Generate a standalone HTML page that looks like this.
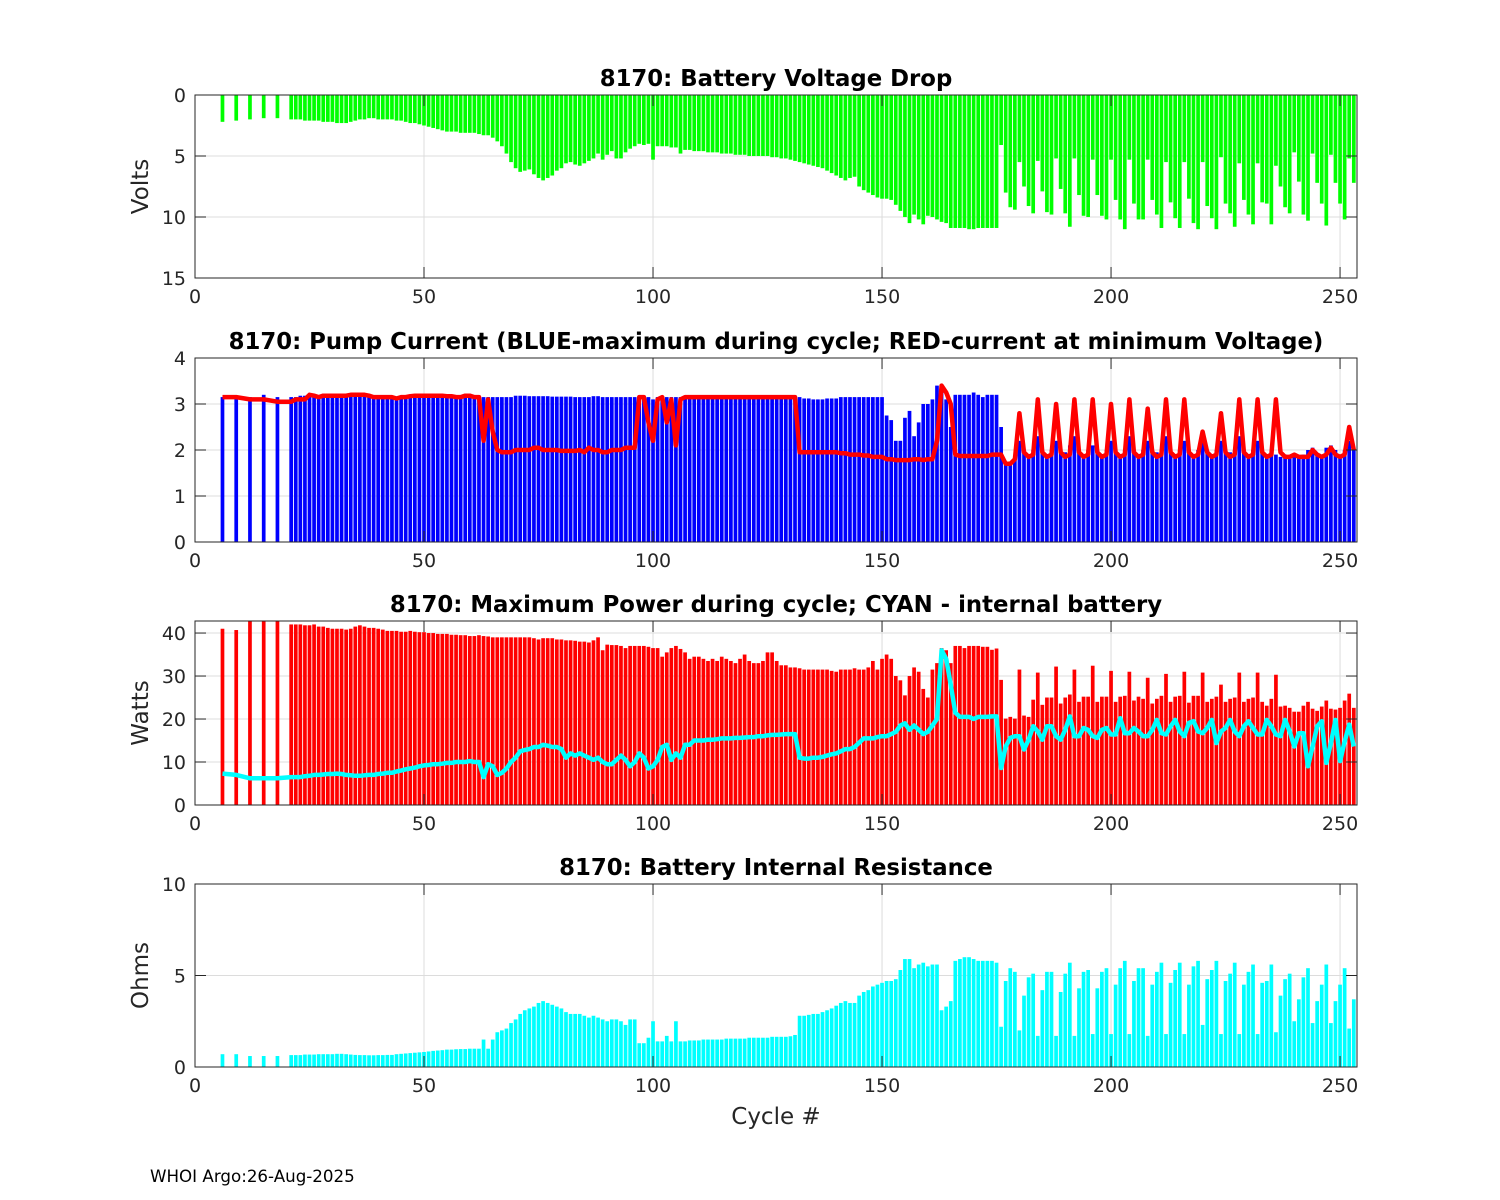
<!DOCTYPE html>
<html><head><meta charset="utf-8">
<style>
html,body{margin:0;padding:0;background:#fff;}
svg{display:block;font-family:"DejaVu Sans","Liberation Sans",sans-serif;}
</style></head>
<body>
<svg id="fig" width="1500" height="1200" viewBox="0 0 1500 1200" xmlns="http://www.w3.org/2000/svg">
<rect width="1500" height="1200" fill="#fff"/>
</svg>
<script>
// ---- data ----
const cycles = [6,9,12,15,18];
for (let c = 21; c <= 253; c++) cycles.push(c);

const voltDrop = [
2.2,2.1,2.0,1.9,1.9,
2.0,2.0,2.0,2.1,2.1,2.1,2.1,2.2,2.2,2.2,
2.3,2.3,2.3,2.2,2.1,2.0,2.0,1.9,1.9,2.0,
2.0,2.0,2.0,2.1,2.1,2.2,2.3,2.3,2.4,2.5,
2.6,2.7,2.8,2.9,3.0,3.0,3.0,3.1,3.1,3.1,
3.1,3.2,3.3,3.3,3.5,3.8,4.2,4.8,5.5,6.0,
6.3,6.2,6.1,6.5,6.8,7.0,6.8,6.6,6.2,6.0,
5.6,5.5,5.7,5.8,5.6,5.4,5.2,4.8,5.3,4.9,
4.6,5.2,5.2,4.7,4.4,4.2,4.0,4.1,4.0,5.3,
4.2,4.2,4.2,4.3,4.3,4.8,4.5,4.5,4.6,4.6,
4.6,4.7,4.7,4.7,4.8,4.8,4.8,4.9,4.9,4.9,
5.0,5.0,5.0,5.0,5.0,5.1,5.1,5.2,5.2,5.3,
5.4,5.5,5.6,5.7,5.8,5.9,6.0,6.2,6.4,6.6,
6.8,7.0,6.8,6.7,7.5,7.8,8.0,8.2,8.4,8.5,
8.5,8.6,9.0,9.5,10.0,10.5,9.8,10.2,10.6,9.9,
10.0,10.2,10.4,10.5,10.9,10.9,10.9,10.9,11.0,11.0,
10.9,10.9,10.9,10.9,10.9,
4.1,8.0,9.2,9.4,5.5,7.5,9.1,9.7,5.4,7.9,9.6,9.8,5.2,7.7,9.7,10.8,5.2,8.2,9.9,10.0,
5.3,8.2,9.9,10.2,5.3,8.6,10.2,11.0,5.3,8.9,10.2,10.2,5.3,8.6,9.8,10.9,5.5,8.8,10.1,10.9,
5.5,8.5,10.5,11.0,5.5,9.1,10.1,11.0,5.1,8.9,9.7,10.8,5.6,8.6,9.8,10.6,5.6,8.8,8.9,10.6,
5.8,7.5,9.2,9.7,4.7,7.1,9.8,10.3,4.8,7.2,8.9,10.7,4.9,7.2,8.9,10.2,5.2,7.2
];

const pumpMax = [
3.15,3.15,3.15,3.2,3.15,
3.15,3.15,3.18,3.18,3.2,3.2,3.18,3.18,3.18,3.18,
3.18,3.18,3.18,3.2,3.2,3.2,3.2,3.18,3.18,3.18,
3.15,3.15,3.15,3.15,3.15,3.15,3.17,3.18,3.18,3.18,
3.18,3.18,3.18,3.18,3.17,3.17,3.15,3.15,3.18,3.18,
3.15,3.15,3.15,3.15,3.15,3.15,3.15,3.15,3.15,3.18,
3.18,3.18,3.17,3.17,3.17,3.17,3.17,3.16,3.16,3.16,
3.16,3.16,3.15,3.15,3.15,3.15,3.17,3.17,3.15,3.15,
3.15,3.15,3.15,3.15,3.15,3.15,3.17,3.17,3.15,3.1,
3.15,3.15,3.15,3.15,3.15,3.15,3.15,3.15,3.15,3.15,
3.15,3.15,3.15,3.15,3.15,3.15,3.15,3.15,3.15,3.15,
3.15,3.15,3.15,3.15,3.15,3.15,3.15,3.15,3.15,3.15,
3.15,3.15,3.12,3.12,3.1,3.1,3.1,3.12,3.12,3.12,
3.15,3.15,3.15,3.15,3.15,3.15,3.15,3.15,3.15,3.15,
2.75,2.65,2.2,2.2,2.7,2.85,2.3,2.6,3.0,3.0,
3.1,3.4,3.3,3.1,2.5,3.2,3.2,3.2,3.2,3.25,
3.2,3.15,3.2,3.2,3.2,
2.5,1.75,1.75,1.8,2.2,2.0,1.9,2.0,2.3,2.0,1.9,2.0,2.2,2.0,1.95,2.1,2.3,2.0,1.9,2.0,
2.1,2.0,1.9,2.0,2.2,2.0,1.9,2.0,2.3,2.0,1.9,2.0,2.2,2.0,1.95,2.0,2.3,2.0,1.9,2.0,
2.2,2.0,1.9,2.0,2.3,2.0,1.9,2.0,2.2,2.0,1.95,2.0,2.3,2.0,1.9,2.0,2.2,2.0,1.9,2.0,
1.9,1.85,1.9,1.85,1.9,1.85,1.9,2.0,2.05,1.9,1.9,2.05,2.1,2.0,1.9,2.0,2.2,2.0
];

const pumpAtMin = [
3.15,3.15,3.1,3.1,3.05,
3.05,3.1,3.1,3.1,3.2,3.18,3.15,3.18,3.18,3.18,
3.18,3.18,3.18,3.2,3.2,3.2,3.2,3.18,3.15,3.15,
3.15,3.15,3.15,3.12,3.15,3.15,3.17,3.18,3.18,3.18,
3.18,3.18,3.18,3.18,3.17,3.17,3.15,3.15,3.18,3.18,
3.15,3.15,2.2,3.1,2.4,2.0,1.95,1.95,1.95,2.0,
2.0,2.0,2.0,2.05,2.05,2.0,2.0,2.0,2.0,1.98,
1.98,1.98,1.98,2.0,1.95,2.05,2.0,2.0,1.95,1.95,
2.0,2.0,2.0,2.05,2.05,2.05,3.15,3.15,2.6,2.2,
3.1,3.15,2.6,3.1,2.1,3.1,3.15,3.15,3.15,3.15,
3.15,3.15,3.15,3.15,3.15,3.15,3.15,3.15,3.15,3.15,
3.15,3.15,3.15,3.15,3.15,3.15,3.15,3.15,3.15,3.15,
3.15,1.95,1.95,1.95,1.95,1.95,1.95,1.95,1.95,1.95,
1.93,1.93,1.9,1.9,1.9,1.88,1.88,1.85,1.85,1.85,
1.8,1.8,1.78,1.78,1.78,1.78,1.8,1.8,1.78,1.8,
1.8,2.2,3.4,3.25,3.0,1.9,1.87,1.87,1.87,1.87,
1.87,1.87,1.87,1.9,1.9,
1.9,1.7,1.7,1.8,2.8,1.95,1.85,1.9,3.1,1.95,1.85,1.9,3.0,1.95,1.85,1.9,3.1,1.95,1.85,1.9,
3.1,1.95,1.85,1.9,3.0,1.95,1.85,1.9,3.1,1.95,1.85,1.9,2.9,1.95,1.85,1.9,3.1,1.95,1.85,1.9,
3.1,1.95,1.85,1.9,2.4,1.95,1.85,1.9,2.8,1.95,1.85,1.9,3.1,1.95,1.85,1.9,3.1,1.95,1.85,1.9,
3.1,1.95,1.85,1.85,1.9,1.85,1.85,1.85,2.0,1.9,1.85,1.9,2.05,1.9,1.85,1.9,2.5,2.0
];

const maxPower = [
41,40.7,42.8,42.8,42.8,
42,42,42,41.8,41.8,42,41.5,41.5,41.2,41,
41,41,40.8,41,41.5,41.8,41.5,41.2,41.2,41,
40.8,40.5,40.5,40.5,40.3,40.3,40.5,40.3,40.2,40.2,
40,40,39.8,39.8,39.8,39.6,39.6,39.5,39.5,39.3,
39.3,39.5,39.3,39.2,39,39,39,39,39,39,
39,39,39,38.8,38.5,38.8,38.8,38.8,38.5,38.5,
38.3,38.3,38.2,38,38,37.8,38.3,39,36,37.3,
37.2,37.2,37,36.5,37,37,37,37,36.8,36.5,
36.5,34.5,35.5,36.5,37,36.3,35.5,34,34.5,34.5,
34,33.5,34,33.5,34.5,34,33.5,33,34,35,
33.5,33,33,33.5,35.5,35.5,33.5,32.5,32.5,32,
32,31.8,31.5,31.5,31.5,31.5,31.5,31.5,31.2,31,
31.5,31.5,31.5,31.8,31.5,31.5,32,33.5,31.5,34,
35,34,30,29,25.5,30,32,31,27,25,
31.5,33,36.5,36,33,37,37,36.5,37,37,
37,36.8,36.8,36.1,36.4,
29.1,20.1,20.5,20.1,31.5,20.8,20.5,24.5,30.8,23.3,25,25,32.2,23.6,25,25.7,31.5,24,25.2,25.2,
32.4,24,25.2,25.2,31.2,24,25.2,25.4,31,24.3,25.2,24.7,29.6,23.6,24.7,25.4,30.5,24,25.2,25.4,
31,23.8,25.4,25.4,30.8,24,24.7,25.2,28,24,24.7,25,30.8,24,24.7,25,30.8,24,23.1,24.7,
30.3,22.9,23.1,22.6,21.7,21.7,23.1,24,22.4,21.9,22.9,24.3,22.4,22.2,22.6,24.3,25.9,22.6
];

const battPower = [
7.3,7,6.2,6.2,6.2,
6.5,6.5,6.5,6.7,6.8,7,7,7.1,7.2,7.2,
7.3,7.2,7,6.9,6.8,6.8,6.9,7,7,7.2,
7.3,7.5,7.5,7.8,8,8.3,8.5,8.7,9,9.2,
9.3,9.5,9.5,9.6,9.8,9.8,10,10,10,10.2,
10,10,6.5,9.5,9,7,7.5,8.5,10,11,
12.5,12.8,13,13.5,13.5,14,13.8,13.5,13.5,13,
11,12,11.5,12,11.5,11,10.5,11,10,9.5,
9.5,10.5,11.5,10.5,9,10,12,11,8.5,9,
10.5,13.5,14,10.5,12,11,14,14,15,15,
15,15.2,15.2,15.3,15.5,15.5,15.5,15.6,15.6,15.7,
15.8,15.8,16,16,16.2,16.3,16.3,16.4,16.5,16.5,
16.5,11,10.8,10.8,11,11,11.2,11.5,11.8,12,
12.5,13,13,13.5,14.5,15.5,15.5,15.5,15.8,16,
16,16.5,17,18.5,19,17.5,18.5,17.5,16.5,17,
18.5,20,36,34,28,21.5,20.5,20.5,20.5,20,
20.5,20.5,20.5,20.6,20.6,
8.6,13.6,15.6,16,16,12.9,15.2,18.3,17.1,15.2,18.3,18.3,16,15.2,17.5,20.6,16,16,17.9,17.5,
16,15.6,17.5,17.9,16.4,16.4,20.2,16.7,16.7,17.9,17.1,16,16,17.5,19.8,16.7,16.4,18.3,19.8,17.1,
16,19.1,19.5,17.1,16.7,17.9,19.8,14.4,17.1,17.9,19.8,17.1,16,18.3,19.5,17.9,16.4,16.4,19.8,18.3,
16.4,16,19.8,17.1,13.6,16.7,16.7,9,13.6,18.3,19.5,9.8,14.4,19.8,10.2,14.7,18.7,13.6
];

const resistance = [
0.7,0.7,0.6,0.6,0.6,
0.65,0.65,0.65,0.68,0.68,0.68,0.7,0.7,0.7,0.7,
0.72,0.72,0.7,0.68,0.66,0.65,0.65,0.64,0.64,0.65,
0.65,0.66,0.66,0.7,0.72,0.74,0.76,0.78,0.8,0.82,
0.85,0.88,0.9,0.92,0.95,0.95,0.97,0.98,0.98,1.0,
1.0,1.0,1.5,1.0,1.5,1.9,2.0,2.1,2.4,2.6,
2.9,3.1,3.2,3.3,3.5,3.6,3.5,3.4,3.3,3.2,
3.0,2.9,2.9,2.9,2.8,2.7,2.8,2.7,2.6,2.5,
2.6,2.6,2.5,2.3,2.6,2.6,1.3,1.3,1.6,2.5,
1.4,1.4,1.7,1.4,2.5,1.4,1.4,1.45,1.45,1.45,
1.5,1.5,1.5,1.5,1.5,1.55,1.55,1.55,1.55,1.55,
1.6,1.6,1.6,1.6,1.6,1.65,1.65,1.65,1.65,1.68,
1.75,2.8,2.8,2.85,2.9,2.9,3.0,3.1,3.2,3.35,
3.5,3.6,3.5,3.5,3.9,4.1,4.2,4.4,4.5,4.6,
4.7,4.7,4.8,5.3,5.9,5.9,5.4,5.6,5.7,5.5,
5.6,5.6,3.1,3.3,3.6,5.8,5.9,6.0,6.0,5.9,
5.8,5.8,5.8,5.8,5.7,
2.2,4.7,5.4,5.2,2.0,3.9,4.9,5.1,1.7,4.2,5.2,5.2,1.7,4.1,5.1,5.7,1.7,4.3,5.2,5.3,
1.8,4.3,5.2,5.4,1.8,4.5,5.4,5.8,1.8,4.7,5.4,5.4,1.7,4.5,5.2,5.7,1.8,4.6,5.3,5.7,
1.8,4.5,5.5,5.8,2.3,4.8,5.3,5.8,1.8,4.7,5.1,5.7,1.8,4.5,5.2,5.6,1.8,4.6,4.7,5.6,
1.9,3.9,4.8,5.1,2.5,3.7,4.9,5.4,2.4,3.6,4.5,5.6,2.4,3.6,4.5,5.4,2.1,3.7
];

const xTicks = [0,50,100,150,200,250];
const voltTicks = [0,5,10,15];
const ampTicks = [0,1,2,3,4];
const wattTicks = [0,10,20,30,40];
const ohmTicks = [0,5,10];

// ---- drawing ----
const NS = "http://www.w3.org/2000/svg";
const svg = document.getElementById('fig');
const X0 = 195, X1 = 1357, XMAX = 253.7;
const xs = v => X0 + v / XMAX * (X1 - X0);
const BW = 3.7;

function el(tag, attrs, parent) {
  const e = document.createElementNS(NS, tag);
  for (const k in attrs) e.setAttribute(k, attrs[k]);
  (parent || svg).appendChild(e);
  return e;
}

function panel(key, top, bot, ymin, ymax, yTicks, invert, title, ylabel) {
  const g = el('g', {});
  
  
  const ys = v => invert ? top + (v - ymin) / (ymax - ymin) * (bot - top)
                         : bot - (v - ymin) / (ymax - ymin) * (bot - top);
  const grid = el('g', {}, g);
  
  
  xTicks.forEach(t => {
    el('line', {x1: xs(t), x2: xs(t), y1: top, y2: bot, stroke: '#dcdcdc', 'stroke-width': 1}, grid);
  });
  yTicks.forEach(t => {
    el('line', {x1: X0, x2: X1, y1: ys(t), y2: ys(t), stroke: '#dcdcdc', 'stroke-width': 1}, grid);
  });
  const plot = el('g', {}, g);
  
  
  const frame = el('g', {}, g);
  
  
  xTicks.forEach(t => {
    const x = xs(t);
    el('line', {x1: x, x2: x, y1: bot, y2: bot - 11, stroke: '#262626', 'stroke-width': 1}, frame);
    el('line', {x1: x, x2: x, y1: top, y2: top + 11, stroke: '#262626', 'stroke-width': 1}, frame);
    const tl = el('text', {x: x, y: bot + 25, 'text-anchor': 'middle', 'font-size': 19, fill: '#262626'}, frame);
    tl.textContent = t;
    
    
  });
  yTicks.forEach(t => {
    const y = ys(t);
    el('line', {x1: X0, x2: X0 + 11, y1: y, y2: y, stroke: '#262626', 'stroke-width': 1}, frame);
    el('line', {x1: X1, x2: X1 - 11, y1: y, y2: y, stroke: '#262626', 'stroke-width': 1}, frame);
    const tl = el('text', {x: X0 - 9, y: y + 7, 'text-anchor': 'end', 'font-size': 19, fill: '#262626'}, frame);
    tl.textContent = t;
    
    
  });
  el('rect', {x: X0, y: top, width: X1 - X0, height: bot - top, fill: 'none', stroke: '#262626', 'stroke-width': 1}, frame);
  const tt = el('text', {x: 776, y: top - 9, 'text-anchor': 'middle', 'font-size': 22.8, 'font-weight': 'bold', fill: '#000'}, g);
  tt.textContent = title;
  
  
  const yl = el('text', {x: 0, y: 0, 'text-anchor': 'middle', 'font-size': 23, fill: '#262626',
    transform: `translate(148,${(top + bot) / 2}) rotate(-90)`}, g);
  yl.textContent = ylabel;
  
  
  return {plot, ys, top, bot};
}

function bars(p, vals, color, name) {
  const grp = el('g', {}, p.plot);
  
  
  cycles.forEach((c, i) => {
    if (vals[i] === undefined) return;
    const y0 = p.ys(0), y1 = p.ys(vals[i]);
    const r = el('rect', {x: xs(c) - BW / 2, y: Math.max(p.top, Math.min(y0, y1)), width: BW,
      height: Math.abs(Math.min(Math.max(y1, p.top), p.bot) - y0), fill: color}, grp);
    
    
  });
}

function line(p, vals, color, name) {
  let d = '';
  cycles.forEach((c, i) => {
    if (vals[i] === undefined) return;
    d += (d ? 'L' : 'M') + xs(c).toFixed(1) + ',' + p.ys(vals[i]).toFixed(1);
  });
  const pl = el('path', {d: d, fill: 'none', stroke: color, 'stroke-width': 4.5, 'stroke-linejoin': 'round'}, p.plot);
  
  
}

const p1 = panel('voltage', 95, 278, 0, 15, voltTicks, true, '8170: Battery Voltage Drop', 'Volts');
bars(p1, voltDrop, '#00ff00', 'voltage-drop');

const p2 = panel('current', 358, 542, 0, 4, ampTicks, false, '8170: Pump Current (BLUE-maximum during cycle; RED-current at minimum Voltage)', '');
bars(p2, pumpMax, '#0000ff', 'max-current');
line(p2, pumpAtMin, '#ff0000', 'current-at-min-voltage');

const p3 = panel('power', 621, 805, 0, 42.8, wattTicks, false, '8170: Maximum Power during cycle; CYAN - internal battery', 'Watts');
bars(p3, maxPower, '#ff0000', 'max-power');
line(p3, battPower, '#00ffff', 'internal-battery-power');

const p4 = panel('resistance', 884, 1067, 0, 10, ohmTicks, false, '8170: Battery Internal Resistance', 'Ohms');
bars(p4, resistance, '#00ffff', 'resistance');

const xl = el('text', {x: 776, y: 1124, 'text-anchor': 'middle', 'font-size': 23, fill: '#262626'});
xl.textContent = 'Cycle #';



const ft = el('text', {x: 150, y: 1182, 'font-size': 16.7, fill: '#000'});
ft.textContent = 'WHOI Argo:26-Aug-2025';


</script>
</body></html>
